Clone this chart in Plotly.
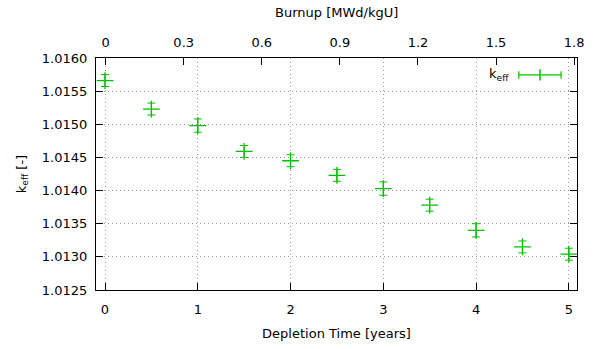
import plotly.graph_objects as go

time_years = [0, 0.5, 1, 1.5, 2, 2.5, 3, 3.5, 4, 4.5, 5]
keff = [1.01566, 1.01523, 1.01498, 1.01459, 1.01445, 1.01423, 1.01403, 1.01378, 1.01340, 1.01315, 1.01304]
keff_err = [0.00009, 0.00009, 0.0001, 0.00009, 0.00009, 0.00009, 0.0001, 0.00009, 0.0001, 0.00009, 0.00009]
burnup_ticks = [0, 0.3, 0.6, 0.9, 1.2, 1.5, 1.8]

GREEN = "rgb(0,192,0)"
FONT = "DejaVu Sans"

fig = go.Figure()
fig.add_trace(go.Scatter(
    x=time_years, y=keff, mode="markers",
    marker=dict(symbol="cross-thin", size=12, line=dict(color=GREEN, width=1.3), color=GREEN),
    error_y=dict(type="data", array=keff_err, visible=True, color=GREEN, thickness=1, width=4),
    showlegend=False, hoverinfo="x+y",
))
# invisible trace to activate top axis
fig.add_trace(go.Scatter(x=burnup_ticks, y=[keff[0]]*len(burnup_ticks), xaxis="x2", mode="markers",
                         marker=dict(opacity=0), showlegend=False, hoverinfo="skip"))

axis_common = dict(showline=True, linecolor="black", linewidth=1.2, ticks="inside", ticklen=7,
                   tickcolor="black", tickfont=dict(family=FONT, size=13, color="black"),
                   zeroline=False, automargin=False)
GRID = dict(showgrid=True, gridcolor="#9a9a9a", griddash="1px,3px", gridwidth=1)

fig.update_layout(
    width=597, height=349,
    margin=dict(l=96, r=20, t=58, b=59),
    paper_bgcolor="white", plot_bgcolor="white",
    font=dict(family=FONT, size=13, color="black"),
    xaxis=dict(range=[-0.097, 5.088], tickmode="array", tickvals=[0, 1, 2, 3, 4, 5],
               mirror=True, ticklabelstandoff=7,
               title=dict(text="Depletion Time [years]", font=dict(family=FONT, size=13), standoff=13),
               **GRID, **axis_common),
    xaxis2=dict(range=[-0.037, 1.811], overlaying="x", side="top", tickmode="array",
                tickvals=burnup_ticks, ticktext=["0", "0.3", "0.6", "0.9", "1.2", "1.5", "1.8"],
                showgrid=False, anchor="y", ticklabelstandoff=5,
                **axis_common),
    yaxis=dict(range=[1.0125, 1.0160], dtick=0.0005, tick0=1.0125, tickformat=".4f",
               mirror="ticks", ticklabelstandoff=5,
               title=dict(text="k<sub>eff</sub> [-]", font=dict(family=FONT, size=13), standoff=12),
               **GRID, **axis_common),
)

# top axis title
fig.add_annotation(xref="paper", yref="paper", x=0.5, y=1, yanchor="middle", yshift=46,
                   text="Burnup [MWd/kgU]", showarrow=False,
                   font=dict(family=FONT, size=13, color="black"))

# custom legend sample (gnuplot-style horizontal error bar key)
ly = 0.927
x0, x1, xc = 0.879, 0.967, 0.923
line = dict(color=GREEN, width=1.2)
fig.add_shape(type="line", xref="paper", yref="paper", x0=x0, x1=x1, y0=ly, y1=ly, line=line)
fig.add_shape(type="line", xref="paper", yref="paper", x0=x0, x1=x0, y0=ly-0.016, y1=ly+0.016, line=line)
fig.add_shape(type="line", xref="paper", yref="paper", x0=x1, x1=x1, y0=ly-0.016, y1=ly+0.016, line=line)
fig.add_shape(type="line", xref="paper", yref="paper", x0=xc, x1=xc, y0=ly-0.024, y1=ly+0.024,
              line=dict(color=GREEN, width=1.5))
fig.add_annotation(xref="paper", yref="paper", x=0.863, y=ly, text="k<sub>eff</sub>", showarrow=False,
                   xanchor="right", yanchor="middle", font=dict(family=FONT, size=13, color="black"))

fig.write_html("out.html", config={"displayModeBar": False},
               post_script="document.body.style.margin='0';")
